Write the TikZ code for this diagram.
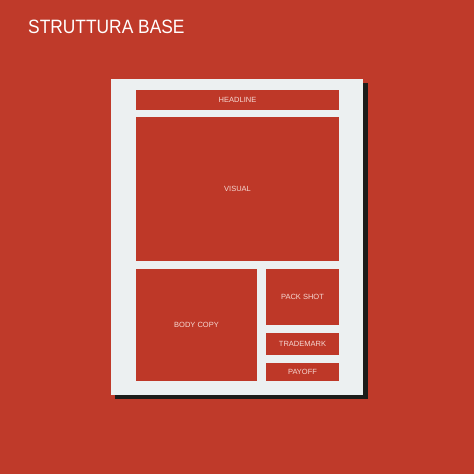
\documentclass[tikz,border=0pt]{standalone}
\usepackage{fontspec}
\setmainfont{Liberation Sans}
\newfontfamily\titlefont[FakeStretch=0.9]{Liberation Sans}
\definecolor{bgred}{HTML}{BF3A2A}
\definecolor{boxred}{HTML}{BE3828}
\definecolor{paper}{HTML}{ECF0F1}
\definecolor{shadowdark}{HTML}{1C1C1A}
\definecolor{labelpink}{HTML}{F6D8D2}
\tikzset{
  block/.style={fill=boxred, inner sep=0pt, text=labelpink, font=\fontsize{7.5}{9}\selectfont}
}
\begin{document}
\begin{tikzpicture}[x=1pt,y=-1pt]
    \tikzstyle{every node}+=[inner sep=0pt]
    \fill [bgred] (0,0) rectangle (474,474);
    \useasboundingbox (0,0) rectangle (474,474);
    \node [anchor=base west, text=white, font=\titlefont\fontsize{19.3}{22}\selectfont] (title) at (28,33) {STRUTTURA BASE};
    % sheet and its shadow
    \fill [shadowdark] (115,83) rectangle (368,399);
    \fill [paper] (111,79) rectangle (363,395);
    % layout blocks
    \node [block, minimum width=203, minimum height=20] (headline) at (237.5,100) {HEADLINE};
    \node [block, minimum width=203, minimum height=144] (visual) at (237.5,189) {VISUAL};
    \node [block, minimum width=121, minimum height=112] (bodycopy) at (196.5,325) {BODY COPY};
    \node [block, minimum width=73, minimum height=56] (packshot) at (302.5,297) {PACK SHOT};
    \node [block, minimum width=73, minimum height=22] (trademark) at (302.5,344) {TRADEMARK};
    \node [block, minimum width=73, minimum height=18] (payoff) at (302.5,372) {PAYOFF};
\end{tikzpicture}
\end{document}
